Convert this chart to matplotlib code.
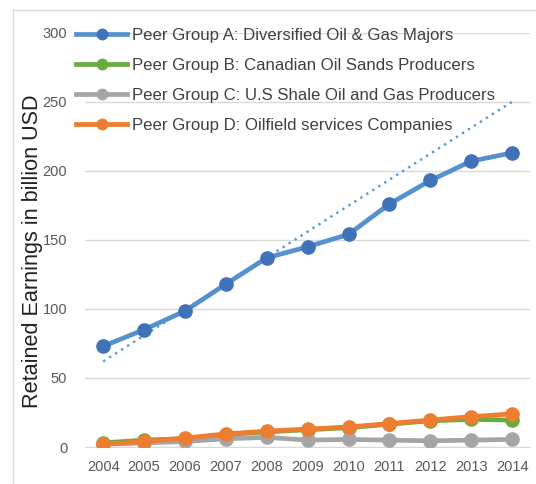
import numpy as np
import matplotlib
matplotlib.use("Agg")
import matplotlib.pyplot as plt
from matplotlib.lines import Line2D

years = ["2004", "2005", "2006", "2007", "2008", "2009", "2010", "2011", "2012", "2013", "2014"]

group_a = [73, 85, 98.5, 118, 137, 145, 154, 176, 193, 207, 213]
group_b = [3, 5, 6, 9, 11, 12.5, 14, 16.5, 19, 20, 19.5]
group_c = [2, 3, 4, 6, 7, 5, 5.5, 5, 4.5, 5, 5.5]
group_d = [2, 4, 6.5, 9.5, 11.5, 13, 14.5, 17, 19.5, 22, 24]

# dotted trend line of group A (start, end)
trend_a = [62, 250]

labels = [
    "Peer Group A: Diversified Oil & Gas Majors",
    "Peer Group B: Canadian Oil Sands Producers",
    "Peer Group C: U.S Shale Oil and Gas Producers",
    "Peer Group D: Oilfield services Companies",
]
line_colors = ["#5590CF", "#6AAB3F", "#A5A5A5", "#ED7D31"]
marker_colors = ["#3F72B8", "#6AAB3F", "#A5A5A5", "#ED7D31"]

plt.rcParams["font.family"] = ["Liberation Sans", "DejaVu Sans"]

fig = plt.figure(figsize=(5.36, 4.84), dpi=100)
ax = fig.add_axes([0.159, 0.0764, 0.83, 0.856])

x = np.arange(len(years))
series = [group_a, group_b, group_c, group_d]
# draw C first so B/D lie over it, A last
order = [2, 1, 3, 0]
for i in order:
    ax.plot(x, series[i], color=line_colors[i], lw=3.4, marker="o", ms=9.5,
            mfc=marker_colors[i], mec=marker_colors[i], zorder=3 + i)

ax.plot([x[0], x[-1]], trend_a, color="#4F9AD8", lw=1.7, ls=(0, (1, 2)), zorder=2)

ax.set_xlim(-0.44, 10.44)
ax.set_ylim(0, 300)
ax.set_yticks(np.arange(0, 301, 50))
ax.set_xticks(x)
ax.set_xticklabels(years)
ax.tick_params(axis="both", length=0, labelsize=10.5, colors="#595959")
ax.tick_params(axis="y", pad=13)
ax.tick_params(axis="x", pad=9)
ax.grid(axis="y", color="#D9D9D9", lw=1)
ax.set_axisbelow(True)
for s in ["top", "right", "left"]:
    ax.spines[s].set_visible(False)
ax.spines["bottom"].set_color("#D9D9D9")

ax.set_ylabel("Retained Earnings in billion USD", fontsize=15.6, color="#222222")
ax.yaxis.set_label_coords(-0.094, 0.472)

handles = [Line2D([0], [0], color=line_colors[i], lw=3.4, marker="o", ms=7.5,
                  mfc=marker_colors[i], mec=marker_colors[i]) for i in range(4)]
leg = ax.legend(handles, labels, loc="upper left", bbox_to_anchor=(-0.035, 1.027),
                frameon=False, fontsize=12.1, handlelength=3.0, handletextpad=0.3,
                labelspacing=0.88, borderaxespad=0)
for t in leg.get_texts():
    t.set_color("#404040")

# outer chart frame
fig.add_artist(Line2D([13 / 536, 13 / 536], [0, 1 - 10 / 484], transform=fig.transFigure,
                      color="#D9D9D9", lw=1))
fig.add_artist(Line2D([13 / 536, 1], [1 - 10 / 484, 1 - 10 / 484], transform=fig.transFigure,
                      color="#D9D9D9", lw=1))

fig.savefig("out.png", dpi=100)
